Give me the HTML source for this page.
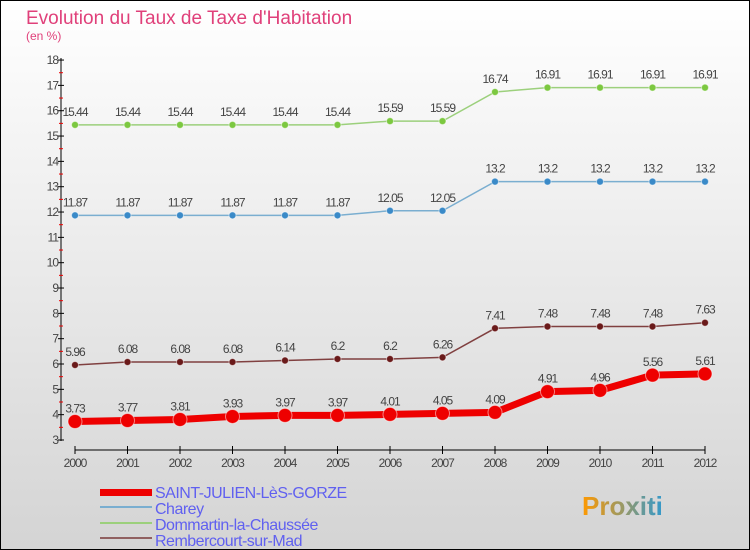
<!DOCTYPE html>
<html><head><meta charset="utf-8"><style>
body{margin:0}
svg{display:block;font-family:"Liberation Sans",sans-serif}
</style></head><body>
<svg id="c" width="750" height="550">
<defs><linearGradient id="bg" x1="0" y1="0" x2="0" y2="1"><stop offset="0" stop-color="#ffffff"/><stop offset="1" stop-color="#d4d4d4"/></linearGradient>
<linearGradient id="lg" x1="0" y1="0" x2="1" y2="0"><stop offset="0" stop-color="#f90"/><stop offset="1" stop-color="#39c"/></linearGradient></defs>
<rect x="0.5" y="0.5" width="749" height="549" fill="url(#bg)" stroke="#000"/>
<text x="26" y="24" font-size="19" fill="#e0407a">Evolution du Taux de Taxe d'Habitation</text>
<text x="26" y="40" font-size="12" fill="#e0407a">(en %)</text>
<g id="plot"></g>
<g font-size="16" fill="#6060f0" letter-spacing="-0.5">
<rect x="100" y="489" width="52" height="7" fill="#e00"/>
<text x="155" y="498">SAINT-JULIEN-LèS-GORZE</text>
<rect x="100" y="506" width="52" height="2" fill="#7aaed0"/>
<text x="155" y="514">Charey</text>
<rect x="100" y="522" width="52" height="2" fill="#9cd07c"/>
<text x="155" y="530">Dommartin-la-Chaussée</text>
<rect x="100" y="537" width="52" height="2" fill="#906060"/>
<text x="155" y="546">Rembercourt-sur-Mad</text>
</g>
<text x="582" y="515" font-size="26" font-weight="bold" fill="url(#lg)">Proxiti</text>
</svg>
<script>
const years=[2000,2001,2002,2003,2004,2005,2006,2007,2008,2009,2010,2011,2012];
const saint=[3.73,3.77,3.81,3.93,3.97,3.97,4.01,4.05,4.09,4.91,4.96,5.56,5.61];
const charey=[11.87,11.87,11.87,11.87,11.87,11.87,12.05,12.05,13.2,13.2,13.2,13.2,13.2];
const dommartin=[15.44,15.44,15.44,15.44,15.44,15.44,15.59,15.59,16.74,16.91,16.91,16.91,16.91];
const rembercourt=[5.96,6.08,6.08,6.08,6.14,6.2,6.2,6.26,7.41,7.48,7.48,7.48,7.63];
const yTicks=[3,4,5,6,7,8,9,10,11,12,13,14,15,16,17,18];
const NS="http://www.w3.org/2000/svg";
const g=document.getElementById('plot');
const xS=i=>75+i*52.5;
const yS=v=>440-(v-3)*25.33;
function mk(t,a,p){const e=document.createElementNS(NS,t);for(const k in a)e.setAttribute(k,a[k]);(p||g).appendChild(e);return e;}
let ax=mk('line',{x1:61,y1:58,x2:61,y2:441,stroke:'#000'});


yTicks.forEach(v=>{
 mk('line',{x1:58,x2:64,y1:yS(v),y2:yS(v),stroke:'#000'});
 if(v<18)mk('line',{x1:59,x2:63,y1:yS(v+0.5),y2:yS(v+0.5),stroke:'#e00'});
 const t=mk('text',{x:58,y:yS(v)+4,'font-size':12,fill:'#444','text-anchor':'end','letter-spacing':'-1'});t.textContent=v;
 
 
});
let xa=mk('line',{x1:75,y1:450,x2:705,y2:450,stroke:'#000'});


years.forEach((y,i)=>{
 mk('line',{x1:xS(i),x2:xS(i),y1:446,y2:454,stroke:'#000'});
 const t=mk('text',{x:xS(i),y:467,'font-size':12,fill:'#444','text-anchor':'middle','letter-spacing':'-1'});t.textContent=y;
 
 
});
function series(d,name,col,dot,w,r){
 const s=mk('g',{});
 
 
 mk('polyline',{points:d.map((v,i)=>xS(i)+','+yS(v)).join(' '),fill:'none',stroke:col,'stroke-width':w},s);
 d.forEach((v,i)=>{
  const c=mk('circle',{cx:xS(i),cy:yS(v),r:r,fill:dot,stroke:'#fff','stroke-opacity':0.5},s);
  
  
  const t=mk('text',{x:xS(i),y:yS(v)-9,'font-size':12,fill:'#444','text-anchor':'middle','letter-spacing':'-1'},s);
  t.textContent=String(v);
  
  
 });
}
series(dommartin,'dommartin','#9cd07c','#7cc840',1.5,3.5);
series(charey,'charey','#7aaed0','#3a8ac8',1.5,3.5);
series(rembercourt,'rembercourt','#804040','#6a1a1a',1.5,3.5);
series(saint,'saint-julien','#e00','#e00',7,7);
</script>
</body></html>
